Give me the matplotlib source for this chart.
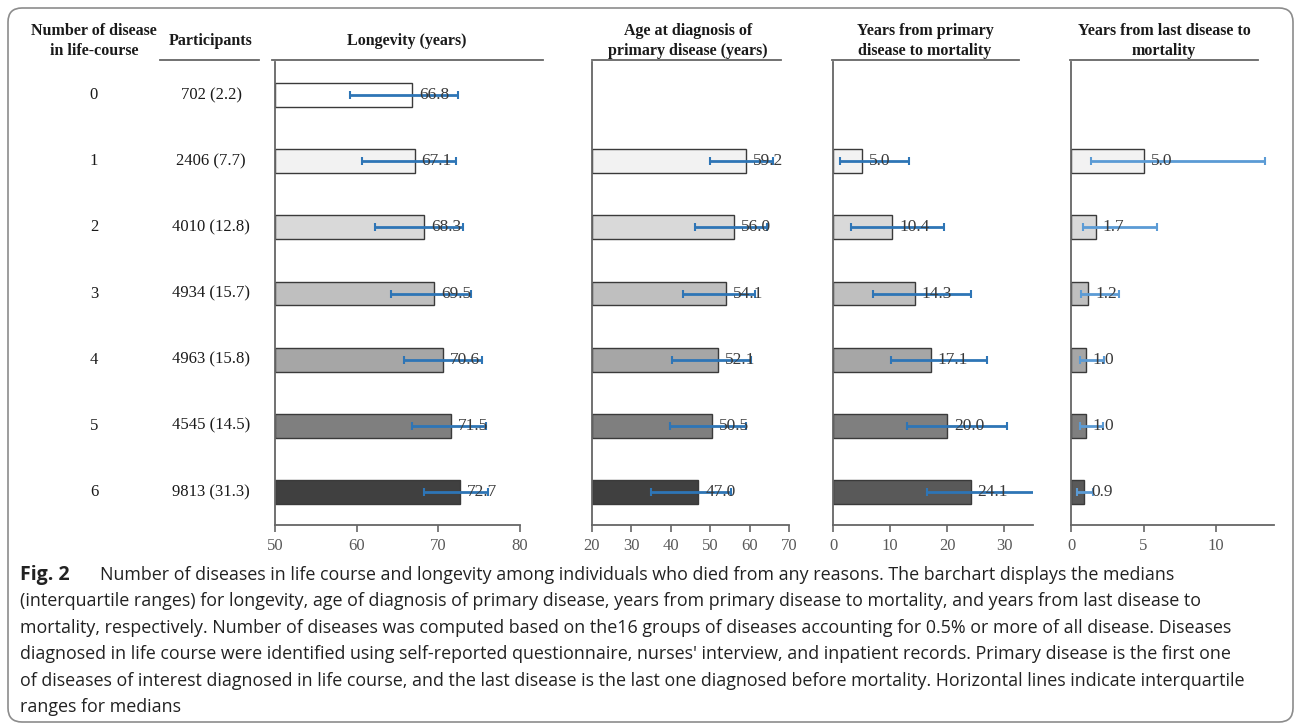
import matplotlib
matplotlib.use('Agg')
import matplotlib.pyplot as plt
import matplotlib.transforms as mtransforms
from matplotlib.patches import FancyBboxPatch
from matplotlib.lines import Line2D
import numpy as np

# ---- data ----
n_disease = ['0', '1', '2', '3', '4', '5', '6']
participants = ['702 (2.2)', '2406 (7.7)', '4010 (12.8)', '4934 (15.7)',
                '4963 (15.8)', '4545 (14.5)', '9813 (31.3)']

longevity_med = [66.8, 67.1, 68.3, 69.5, 70.6, 71.5, 72.7]
longevity_lo = [59.2, 60.6, 62.2, 64.2, 65.8, 66.8, 68.2]
longevity_hi = [72.4, 72.2, 73.0, 74.0, 75.3, 75.8, 76.1]

age_dx_med = [np.nan, 59.2, 56.0, 54.1, 52.1, 50.5, 47.0]
age_dx_lo = [np.nan, 50.0, 46.1, 43.2, 40.4, 39.8, 35.1]
age_dx_hi = [np.nan, 66.0, 64.3, 61.4, 60.3, 59.2, 55.4]

yrs_primary_med = [np.nan, 5.0, 10.4, 14.3, 17.1, 20.0, 24.1]
yrs_primary_lo = [np.nan, 1.2, 3.2, 7.0, 10.2, 12.9, 16.5]
yrs_primary_hi = [np.nan, 13.3, 19.4, 24.1, 26.9, 30.5, 35.5]

yrs_last_med = [np.nan, 5.0, 1.7, 1.2, 1.0, 1.0, 0.9]
yrs_last_lo = [np.nan, 1.4, 0.8, 0.7, 0.6, 0.6, 0.4]
yrs_last_hi = [np.nan, 13.4, 5.9, 3.3, 2.3, 2.2, 1.5]

headers = ['Longevity (years)', 'Age at diagnosis of\nprimary disease (years)',
           'Years from primary\ndisease to mortality', 'Years from last disease to\nmortality']
xlims = [(50, 80), (20, 70), (0, 35), (0, 14)]
xticks = [[50, 60, 70, 80], [20, 30, 40, 50, 60, 70], [0, 10, 20, 30], [0, 5, 10]]

caption_lines = [
    'Number of diseases in life course and longevity among individuals who died from any reasons. The barchart displays the medians',
    '(interquartile ranges) for longevity, age of diagnosis of primary disease, years from primary disease to mortality, and years from last disease to',
    'mortality, respectively. Number of diseases was computed based on the16 groups of diseases accounting for 0.5% or more of all disease. Diseases',
    "diagnosed in life course were identified using self-reported questionnaire, nurses' interview, and inpatient records. Primary disease is the first one",
    'of diseases of interest diagnosed in life course, and the last disease is the last one diagnosed before mortality. Horizontal lines indicate interquartile',
    'ranges for medians',
]

bar_fill = [['#ffffff', '#f2f2f2', '#d9d9d9', '#bfbfbf', '#a6a6a6', '#7f7f7f', '#404040']] * 2 + \
           [['#ffffff', '#f2f2f2', '#d9d9d9', '#bfbfbf', '#a6a6a6', '#7f7f7f', '#595959']] * 2
err_color = ['#2e75b6', '#2e75b6', '#2e75b6', '#5b9bd5']

W, H = 1295, 728
SERIF = ['Liberation Serif', 'DejaVu Serif']


def fx(px):
    return px / W


def fy(py):
    return 1 - py / H


fig = plt.figure(figsize=(W / 100, H / 100), dpi=100)
fig.patch.set_facecolor('white')

# panel extents in pixels (left, right); shared top / bottom
panel_x = [(275, 520), (592, 789), (833, 1033), (1071, 1274)]
top_px, bot_px = 62, 525
header_line = [(272, 543), (592, 781), (832, 1019), (1070, 1258)]
header_cx = [407, 688, 925, 1164]

series = [
    (longevity_med, longevity_lo, longevity_hi),
    (age_dx_med, age_dx_lo, age_dx_hi),
    (yrs_primary_med, yrs_primary_lo, yrs_primary_hi),
    (yrs_last_med, yrs_last_lo, yrs_last_hi),
]

y = np.arange(len(n_disease))
axes = []
for i, (med, lo, hi) in enumerate(series):
    l, r = panel_x[i]
    ax = fig.add_axes([fx(l), fy(bot_px), (r - l) / W, (bot_px - top_px) / H])
    axes.append(ax)
    med = np.array(med)
    lo = np.array(lo)
    hi = np.array(hi)
    left0 = xlims[i][0]
    ok = ~np.isnan(med)
    ax.barh(y[ok], med[ok] - left0, left=left0, height=0.36,
            color=np.array(bar_fill[i])[ok], edgecolor='#3a3a3a', linewidth=1.0, zorder=2)
    ax.errorbar(med[ok], y[ok], xerr=[med[ok] - lo[ok], hi[ok] - med[ok]], fmt='none',
                ecolor=err_color[i], elinewidth=2, capsize=3, capthick=1.5, zorder=3)
    for yy, v in zip(y[ok], med[ok]):
        ax.annotate('%.1f' % v, (v, yy), xytext=(5, 0), textcoords='offset points',
                    va='center', ha='left', fontsize=12.5, family=SERIF, color='#3a3a3a', zorder=4)
    ax.set_xlim(*xlims[i])
    ax.set_ylim(6.5, -0.5)
    ax.set_xticks(xticks[i])
    ax.set_yticks([])
    for s in ['top', 'right']:
        ax.spines[s].set_visible(False)
    for s in ['left', 'bottom']:
        ax.spines[s].set_color('#666666')
        ax.spines[s].set_linewidth(1.3)
    ax.tick_params(axis='x', direction='out', length=5, width=1.2, color='#666666',
                   labelsize=12, labelcolor='#595959', pad=4)
    for lab in ax.get_xticklabels():
        lab.set_family(SERIF)
    ax.patch.set_alpha(0)

    # column header and the rule under it
    fig.add_artist(Line2D([fx(header_line[i][0]), fx(header_line[i][1])], [fy(60), fy(60)],
                          color='#666666', lw=1.3))
    fig.text(fx(header_cx[i]), fy(41), headers[i], ha='center', va='center',
             fontsize=11.5, fontweight='bold', family=SERIF, color='#1a1a1a', linespacing=1.4)

# left-hand table columns
fig.text(fx(94), fy(41), 'Number of disease\nin life-course', ha='center', va='center',
         fontsize=11.5, fontweight='bold', family=SERIF, color='#1a1a1a', linespacing=1.4)
fig.text(fx(211), fy(41), 'Participants', ha='center', va='center',
         fontsize=11.5, fontweight='bold', family=SERIF, color='#1a1a1a')
fig.add_artist(Line2D([fx(160), fx(259)], [fy(60), fy(60)], color='#666666', lw=1.3))

row_tf = mtransforms.blended_transform_factory(fig.transFigure, axes[0].transData)
for yy, nd, p in zip(y, n_disease, participants):
    fig.text(fx(94), yy, nd, transform=row_tf, ha='center', va='center',
             fontsize=12, family=SERIF, color='#1a1a1a')
    fig.text(fx(211), yy, p, transform=row_tf, ha='center', va='center',
             fontsize=12, family=SERIF, color='#1a1a1a')

# caption
cap_font = ['Open Sans', 'DejaVu Sans']
line_y = [575, 601, 628, 654, 681, 707]
fig.text(fx(20), fy(line_y[0]), 'Fig. 2', ha='left', va='center', fontsize=14,
         fontweight='bold', family=cap_font, color='#222222')
for k, (txt, ly) in enumerate(zip(caption_lines, line_y)):
    x0 = 100 if k == 0 else 20
    fig.text(fx(x0), fy(ly), txt, ha='left', va='center', fontsize=12.9,
             family=cap_font, color='#222222')

# rounded frame around the whole figure
frame = FancyBboxPatch((8, 6), 1285, 714, boxstyle='round,pad=0,rounding_size=14',
                       transform=mtransforms.IdentityTransform(), facecolor='none',
                       edgecolor='#8c8c8c', linewidth=1.2)
fig.add_artist(frame)

fig.savefig('out.png', dpi=100, facecolor='white')
